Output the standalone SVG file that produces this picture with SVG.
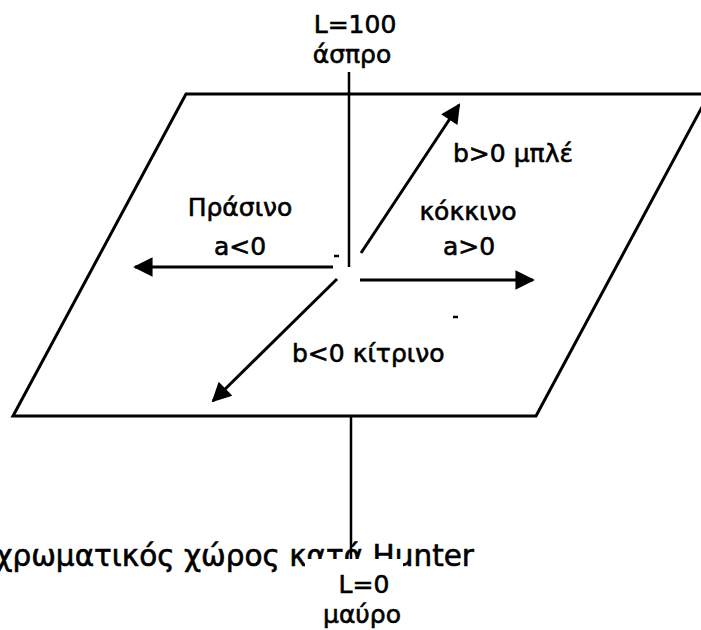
<svg xmlns="http://www.w3.org/2000/svg" width="701" height="630" viewBox="0 0 701 630">
<style>
  text { font-family: "DejaVu Sans", Verdana, sans-serif; font-size: 25px; fill: #000; stroke: #000; stroke-width: 0.6; }
  .ctr { text-anchor: middle; }
  .title { font-size: 29.5px; text-anchor: end; }
  .edge { fill: none; stroke: #000; stroke-width: 3; }
  .axis { fill: none; stroke: #000; stroke-width: 2.5; }
  .arrow { fill: none; stroke: #000; stroke-width: 3; marker-end: url(#ah); }
</style>
<defs>
  <marker id="ah" viewBox="0 0 10 10" refX="9" refY="5" markerWidth="7.5" markerHeight="6.5" markerUnits="strokeWidth" orient="auto">
    <path d="M0,0 L10,5 L0,10 z" fill="#000"/>
  </marker>
</defs>
<rect width="701" height="630" fill="#fff"/>
<g id="plane">
  <polygon class="edge" points="186,94 709,94 536,416 13,416"/>
</g>
<g id="title">
  <text class="title" x="474" y="566">χρωματικός χώρος κατά Hunter</text>
</g>
<g id="connectors">
  <line class="axis" x1="349" y1="72" x2="349" y2="267"/>
  <line class="axis" x1="351" y1="417" x2="351" y2="559"/>
  <line class="arrow" x1="333" y1="267" x2="135" y2="267"/>
  <line class="arrow" x1="360" y1="280" x2="533" y2="280"/>
  <line class="arrow" x1="361" y1="253" x2="459" y2="105"/>
  <line class="arrow" x1="337" y1="279" x2="213" y2="401"/>
  <line x1="334" y1="256" x2="339" y2="256" stroke="#000" stroke-width="2.5"/>
  <line x1="453" y1="317" x2="458" y2="317" stroke="#000" stroke-width="2.5"/>
</g>
<g id="bottom-label">
  <rect x="305" y="559" width="98" height="71" fill="#fff"/>
  <text class="ctr" x="364" y="593">L=0</text>
  <text class="ctr" x="362" y="623">μαύρο</text>
</g>
<g id="top-label">
  <text class="ctr" x="355" y="33">L=100</text>
  <text class="ctr" x="352" y="63">άσπρο</text>
</g>
<g id="green">
  <text class="ctr" x="240" y="216">Πράσινο</text>
  <text class="ctr" x="240" y="255">a&lt;0</text>
</g>
<g id="red">
  <text class="ctr" x="468" y="220">κόκκινο</text>
  <text class="ctr" x="469" y="255">a&gt;0</text>
</g>
<g id="blue">
  <text x="453" y="162">b&gt;0 μπλέ</text>
</g>
<g id="yellow">
  <text x="292" y="362">b&lt;0 κίτρινο</text>
</g>
</svg>
